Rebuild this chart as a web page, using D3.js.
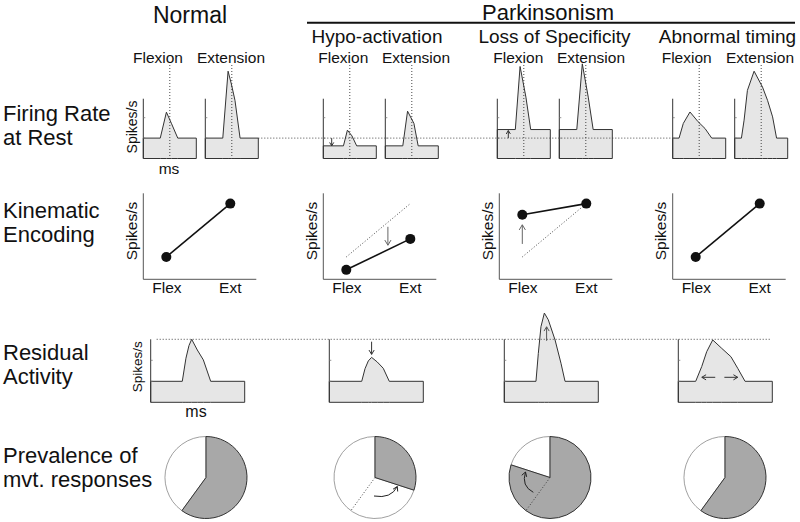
<!DOCTYPE html>
<html><head><meta charset="utf-8">
<script src="https://cdn.jsdelivr.net/npm/d3@7"></script>
<style>body{margin:0;background:#fff} text{font-family:"Liberation Sans",Arial,Helvetica,sans-serif;fill:#111}</style>
</head><body><svg id="c" width="800" height="522"></svg>
<script>
// ---------------- data ----------------
const columns = ["Normal","Hypo-activation","Loss of Specificity","Abnormal timing"];
const groupLabel = "Parkinsonism";
const rowLabels = [["Firing Rate","at Rest"],["Kinematic","Encoding"],["Residual","Activity"],["Prevalence of","mvt. responses"]];
const directions = ["Flexion","Extension"];
const kinCategories = ["Flex","Ext"];
const yLabel = "Spikes/s";
const xLabel = "ms";

// Firing rate at rest: [time %, rate] per column (flexion / extension)
const restFlex = [
  [[0,1],[32,1],[43.6,2.27],[52.9,1.73],[65,1],[100,1]],
  [[0,0.62],[38,0.62],[45.5,1.39],[54,1.11],[63,0.62],[100,0.62]],
  [[0,1.42],[34,1.42],[43,4.51],[54,3.01],[63,1.42],[100,1.42]],
  [[0,1],[12,1],[20,1.72],[32.6,2.28],[48,1.8],[61,1.47],[73.6,1],[100,1]]
];
const restExt = [
  [[0,1],[33,1],[43,4.28],[49,3.67],[56,2.85],[65.6,1],[100,1]],
  [[0,0.62],[33,0.62],[42,2.32],[54,1.72],[62,0.62],[100,0.62]],
  [[0,1.42],[33,1.42],[43.4,4.64],[54.6,3.01],[63.9,1.42],[100,1.42]],
  [[0,1],[12.7,1],[17.7,1.88],[24,3.34],[36.6,4.28],[52.5,3.5],[62,2.85],[71.5,2.04],[79,1],[100,1]]
];
const restReference = 1;
const movementOnset = 50;

// Kinematic encoding: [Flex, Ext]
const kinValues = [[26,88],[11,47],[75,88],[26,88]];
const kinReference = [26,88];

// Residual activity: [time %, rate]
const residual = [
  [[0,1],[33.6,1],[37.5,2.1],[40.7,2.7],[43.6,3],[49.6,2.49],[56,2.02],[63.8,1],[100,1]],
  [[0,1],[34.5,1],[38,1.6],[41.5,1.97],[45,2.14],[51,1.92],[57.4,1.62],[63.8,1],[100,1]],
  [[0,1],[33.7,1],[36.2,2.33],[39,3.6],[42.6,4.25],[46.8,3.93],[54,2.97],[60.3,1.86],[64.6,1],[100,1]],
  [[0,1],[18.5,1],[24.9,1.7],[30.2,2.41],[36.6,2.97],[46.2,2.57],[56,2.17],[63.2,1.62],[71,1],[100,1]]
];
const residualReference = 3;

// Prevalence of movement responses (fraction responding)
const prevalence = [0.6,0.3,0.8,0.6];
const prevalenceReference = 0.6;

// ---------------- layout ----------------
const svg = d3.select("#c");
const INK = "#333", FILL = "#e6e6e6", PIEFILL = "#a8a8a8";
const restLeft = [143.3,323.3,497.3,672.7], restGap = 62, restW = 53;
const kinLeft = [143.3,323.3,499.3,672.7], kinW = 113;
const resLeft = [150.7,329.3,504.3,678.3], resW = 94;
const pieX = [206,375,550,725], pieY = 477.5, pieR = 41;
const dirLabelX = [[158,231],[343.3,416],[518.3,591],[686.7,760]];

function txt(x,y,s,size,anchor="middle"){
  return svg.append("text").attr("x",x).attr("y",y).attr("font-size",size)
    .attr("text-anchor",anchor).text(s);
}
function vtxt(x,y,s,size){
  return svg.append("text").attr("transform",`translate(${x},${y}) rotate(-90)`)
    .attr("font-size",size).attr("text-anchor","middle").attr("dominant-baseline","central").text(s);
}
function arrow(x1,y1,x2,y2,col="#444",hl=5){
  svg.append("line").attr("x1",x1).attr("y1",y1).attr("x2",x2).attr("y2",y2)
    .attr("stroke",col).attr("stroke-width",1);
  const a = Math.atan2(y2-y1,x2-x1);
  const p = [a+2.6,a-2.6].map(t=>[x2+hl*Math.cos(t),y2+hl*Math.sin(t)]);
  svg.append("path").attr("d",`M${p[0]}L${x2},${y2}L${p[1]}`).attr("fill","none")
    .attr("stroke",col).attr("stroke-width",1);
}
function curvedArrow(x1,y1,cx,cy,x2,y2,col="#222",hl=5){
  svg.append("path").attr("d",`M${x1},${y1}Q${cx},${cy} ${x2},${y2}`)
    .attr("fill","none").attr("stroke",col).attr("stroke-width",1);
  const a = Math.atan2(y2-cy,x2-cx);
  const p = [a+2.6,a-2.6].map(t=>[x2+hl*Math.cos(t),y2+hl*Math.sin(t)]);
  svg.append("path").attr("d",`M${p[0]}L${x2},${y2}L${p[1]}`).attr("fill","none")
    .attr("stroke",col).attr("stroke-width",1);
}

// ---------------- headers ----------------
txt(190,23,columns[0],23);
txt(548,19.5,groupLabel,22);
svg.append("line").attr("x1",307).attr("x2",795).attr("y1",22.7).attr("y2",22.7)
  .attr("stroke","#111").attr("stroke-width",2);
[377,554.5,727.5].forEach((x,i)=>txt(x,43.3,columns[i+1],19));

// row labels
const rowY = [121,218,360,463];
rowLabels.forEach((l,i)=>{ txt(3,rowY[i],l[0],22,"start"); txt(3,rowY[i]+24,l[1],22,"start"); });

// ---------------- row 1: firing rate at rest ----------------
const yRest = d3.scaleLinear([0,3],[158.5,97.3]);
const profiles = columns.map((c,i)=>[restFlex[i],restExt[i]]);
profiles.forEach((pair,ci)=>{
  pair.forEach((prof,di)=>{
    const left = restLeft[ci]+di*restGap;
    const x = d3.scaleLinear([0,100],[left,left+restW]);
    const area = d3.area().x(d=>x(d[0])).y0(yRest(0)).y1(d=>yRest(d[1]));
    svg.append("path").attr("d",area(prof)).attr("fill",FILL).attr("stroke",INK).attr("stroke-width",1);
    svg.append("line").attr("x1",left).attr("x2",left).attr("y1",yRest(2.93)).attr("y2",yRest(0))
      .attr("stroke",INK).attr("stroke-width",1);
    [1,2].forEach(t=>svg.append("line").attr("x1",left).attr("x2",left+2)
      .attr("y1",yRest(t)).attr("y2",yRest(t)).attr("stroke","#777").attr("stroke-width",0.8));
    svg.append("line").attr("x1",x(movementOnset)).attr("x2",x(movementOnset))
      .attr("y1",65).attr("y2",yRest(0)).attr("stroke",INK).attr("stroke-width",0.9)
      .attr("stroke-dasharray","1,2");
    txt(dirLabelX[ci][di],63.3,directions[di],15.5);
  });
});
svg.append("line").attr("x1",restLeft[0]+restGap+restW).attr("x2",restLeft[3])
  .attr("y1",yRest(restReference)).attr("y2",yRest(restReference))
  .attr("stroke",INK).attr("stroke-width",0.9).attr("stroke-dasharray","1,2");
vtxt(132,127,yLabel,14);
txt(169,173.5,xLabel,15.5);
// change arrows
arrow(331.7,yRest(restReference),331.7,yRest(restFlex[1][0][1]),"#333",4);
arrow(508.3,yRest(restReference),508.3,yRest(restFlex[2][0][1])+1,"#333",4);

// ---------------- row 2: kinematic encoding ----------------
const yKin = d3.scaleLinear([0,100],[279.3,193.3]);
kinValues.forEach((vals,ci)=>{
  const left = kinLeft[ci];
  const x = d3.scalePoint(kinCategories,[left+23,left+87]);
  svg.append("path").attr("d",`M${left},${yKin(100)}V${yKin(0)}H${left+kinW}`)
    .attr("fill","none").attr("stroke","#555").attr("stroke-width",1);
  if(ci===1||ci===2){
    svg.append("line").attr("x1",x("Flex")).attr("y1",yKin(kinReference[0]))
      .attr("x2",x("Ext")).attr("y2",yKin(kinReference[1]))
      .attr("stroke",INK).attr("stroke-width",0.9).attr("stroke-dasharray","1,2");
  }
  svg.append("line").attr("x1",x("Flex")).attr("y1",yKin(vals[0]))
    .attr("x2",x("Ext")).attr("y2",yKin(vals[1])).attr("stroke","#111").attr("stroke-width",1.6);
  kinCategories.forEach((k,j)=>{
    svg.append("circle").attr("cx",x(k)).attr("cy",yKin(vals[j])).attr("r",5).attr("fill","#111");
    txt(x(k)+(j===0?0.6:0),293.3,k,15.5);
  });
  vtxt(left-12,231,yLabel,15.5);
});
{ // hypo arrow: reference line down to encoded line
  const left = kinLeft[1], f = 0.65;
  const x = left+23+f*64;
  const r = kinReference[0]+f*(kinReference[1]-kinReference[0]);
  const v = kinValues[1][0]+f*(kinValues[1][1]-kinValues[1][0]);
  arrow(x,yKin(r)+4.5,x,yKin(v)-4.5,"#666",6);
  const left2 = kinLeft[2], x2 = left2+23;
  arrow(x2,yKin(kinReference[0])-13,x2,yKin(kinValues[2][0])+10,"#666",6);
}

// ---------------- row 3: residual activity ----------------
const yRes = d3.scaleLinear([0,3],[402.3,339.3]);
residual.forEach((prof,ci)=>{
  const left = resLeft[ci];
  const x = d3.scaleLinear([0,100],[left,left+resW]);
  const area = d3.area().x(d=>x(d[0])).y0(yRes(0)).y1(d=>yRes(d[1]));
  svg.append("path").attr("d",area(prof)).attr("fill",FILL).attr("stroke",INK).attr("stroke-width",1);
  svg.append("line").attr("x1",left).attr("x2",left).attr("y1",yRes(3)).attr("y2",yRes(0))
    .attr("stroke",INK).attr("stroke-width",1);
  [1,2].forEach(t=>svg.append("line").attr("x1",left).attr("x2",left+2)
    .attr("y1",yRes(t)).attr("y2",yRes(t)).attr("stroke","#777").attr("stroke-width",0.8));
});
svg.append("line").attr("x1",156.7).attr("x2",770).attr("y1",yRes(residualReference)).attr("y2",yRes(residualReference))
  .attr("stroke",INK).attr("stroke-width",0.9).attr("stroke-dasharray","1,2");
vtxt(137.5,366.7,yLabel,13.5);
txt(196,417,xLabel,16);
{
  const xh = d3.scaleLinear([0,100],[resLeft[1],resLeft[1]+resW]);
  arrow(xh(45),yRes(residualReference)+2.4,xh(45),yRes(residual[1][4][1])-3,"#333",5);
  const xl = d3.scaleLinear([0,100],[resLeft[2],resLeft[2]+resW]);
  arrow(xl(45),yRes(residualReference)+1.5,xl(45),yRes(residualReference)-12.5,"#555",5);
  const xa = d3.scaleLinear([0,100],[resLeft[3],resLeft[3]+resW]);
  arrow(xa(39.3),377.3,xa(25),377.3,"#333",5);
  arrow(xa(49),377.3,xa(63.2),377.3,"#333",5);
}

// ---------------- row 4: prevalence pies ----------------
const pie = d3.pie().sort(null).value(d=>d);
const arc = d3.arc().innerRadius(0).outerRadius(pieR);
prevalence.forEach((p,ci)=>{
  const g = svg.append("g").attr("transform",`translate(${pieX[ci]},${pieY})`);
  const arcs = pie([p,1-p]);
  g.append("path").attr("d",arc(arcs[1])).attr("fill","#fff").attr("stroke","#888").attr("stroke-width",0.8);
  g.append("path").attr("d",arc(arcs[0])).attr("fill",PIEFILL).attr("stroke","#333").attr("stroke-width",1);
  if(ci===1||ci===2){
    const a = 2*Math.PI*prevalenceReference;
    g.append("line").attr("x1",0).attr("y1",0).attr("x2",pieR*Math.sin(a)).attr("y2",-pieR*Math.cos(a))
      .attr("stroke",INK).attr("stroke-width",0.9).attr("stroke-dasharray","1,2");
  }
});
curvedArrow(374,496,391,499,397.3,486.5,"#222",5);
curvedArrow(533.3,492.3,521,486,525.5,472,"#222",5);
</script></body></html>
